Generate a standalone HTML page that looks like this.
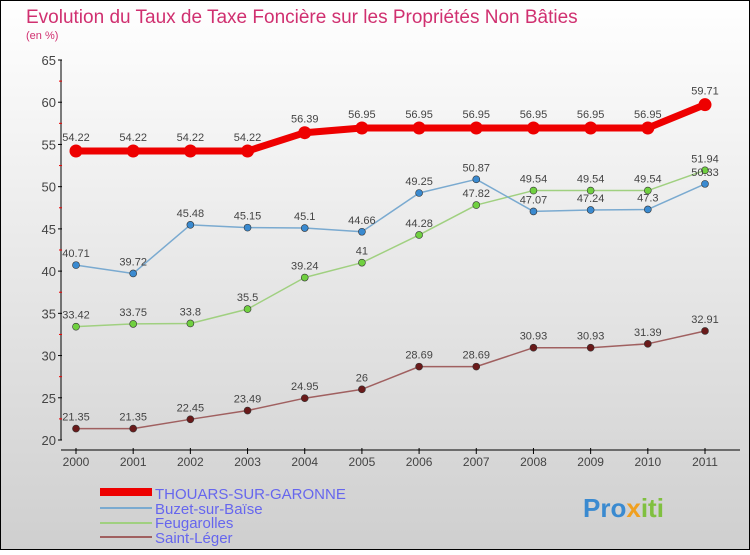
<!DOCTYPE html>
<html><head><meta charset="utf-8"><style>
body{margin:0;width:750px;height:550px;overflow:hidden;font-family:"Liberation Sans",sans-serif}
</style></head><body>
<svg width="750" height="550" xmlns="http://www.w3.org/2000/svg">
<defs><linearGradient id="bg" x1="0" y1="0" x2="0" y2="1"><stop offset="0" stop-color="#ffffff"/><stop offset="1" stop-color="#cfcfcf"/></linearGradient></defs>
<rect x="0.5" y="0.5" width="749" height="549" fill="url(#bg)" stroke="#000"/>
<text x="26" y="23" font-size="19" fill="#d03070">Evolution du Taux de Taxe Foncière sur les Propriétés Non Bâties</text>
<text x="26" y="39" font-size="11" fill="#d03070">(en %)</text>
<g id="axes"></g><g id="series"></g>
<g>
<rect x="100" y="488" width="52" height="8" fill="#e00"/>
<text x="155" y="499" font-size="15" fill="#6666ee">THOUARS-SUR-GARONNE</text>
<line x1="100" y1="508" x2="152" y2="508" stroke="#7aaad0" stroke-width="2"/>
<text x="155" y="514" font-size="15" fill="#6666ee">Buzet-sur-Baïse</text>
<line x1="100" y1="523" x2="152" y2="523" stroke="#a0d080" stroke-width="2"/>
<text x="155" y="528" font-size="15" fill="#6666ee">Feugarolles</text>
<line x1="100" y1="537" x2="152" y2="537" stroke="#a06060" stroke-width="2"/>
<text x="155" y="543" font-size="15" fill="#6666ee">Saint-Léger</text>
</g>
<text x="583" y="517" font-size="26" font-weight="bold" fill="#3a8ad0">Pro<tspan fill="#f0a020">x</tspan><tspan fill="#80c040">iti</tspan></text>
</svg>
<script>
const years=[2000,2001,2002,2003,2004,2005,2006,2007,2008,2009,2010,2011];
const yTicks=[20,25,30,35,40,45,50,55,60,65];
const thouars=[54.22,54.22,54.22,54.22,56.39,56.95,56.95,56.95,56.95,56.95,56.95,59.71];
const buzet=[40.71,39.72,45.48,45.15,45.1,44.66,49.25,50.87,47.07,47.24,47.3,50.33];
const feug=[33.42,33.75,33.8,35.5,39.24,41,44.28,47.82,49.54,49.54,49.54,51.94];
const stleger=[21.35,21.35,22.45,23.49,24.95,26,28.69,28.69,30.93,30.93,31.39,32.91];
const NS="http://www.w3.org/2000/svg";
const x=i=>76+i*(705-76)/11;
const y=v=>440-(v-20)*380/45;
function mk(t,a,p){const e=document.createElementNS(NS,t);for(const k in a)e.setAttribute(k,a[k]);p.appendChild(e);return e;}
const ax=document.getElementById('axes');
let l=mk('line',{x1:61,y1:60,x2:61,y2:440,stroke:'#000'},ax);


l=mk('line',{x1:61,y1:450,x2:740,y2:450,stroke:'#000'},ax);


yTicks.forEach(v=>{
 mk('line',{x1:58,y1:y(v),x2:62,y2:y(v),stroke:'#000'},ax);
 if(v<65)mk('line',{x1:59,y1:y(v+2.5),x2:62,y2:y(v+2.5),stroke:'#e00'},ax);
 const t=mk('text',{x:56,y:y(v)+5,'font-size':13,fill:'#444','text-anchor':'end'},ax);t.textContent=v;
 
 
});
years.forEach((yr,i)=>{
 mk('line',{x1:x(i),y1:448,x2:x(i),y2:454,stroke:'#000'},ax);
 const t=mk('text',{x:x(i),y:466,'font-size':12,fill:'#444','text-anchor':'middle'},ax);t.textContent=yr;
 
 
});
const sg=document.getElementById('series');
function series(data,name,lc,pc,w,r){
 const g=mk('g',{},sg);
 
 
 mk('polyline',{points:data.map((v,i)=>x(i)+','+y(v)).join(' '),fill:'none',stroke:lc,'stroke-width':w,'stroke-linejoin':'round'},g);
 data.forEach((v,i)=>{
  const c=mk('circle',{cx:x(i),cy:y(v),r:r,fill:pc,stroke:'#333','stroke-width':w>3?0:0.6},g);
  
  
  const t=mk('text',{x:x(i),y:y(v)-(w>3?10:8),'font-size':11,fill:'#444','text-anchor':'middle'},g);t.textContent=v;
  
  
 });
}
series(stleger,'saint-leger-series','#a06060','#6a1a1a',1.5,3.5);
series(feug,'feugarolles-series','#a0d080','#70d040',1.5,3.5);
series(buzet,'buzet-series','#7aaad0','#3a8ad0',1.5,3.5);
series(thouars,'thouars-series','#e00','#e00',7,6.5);
</script>
</body></html>
